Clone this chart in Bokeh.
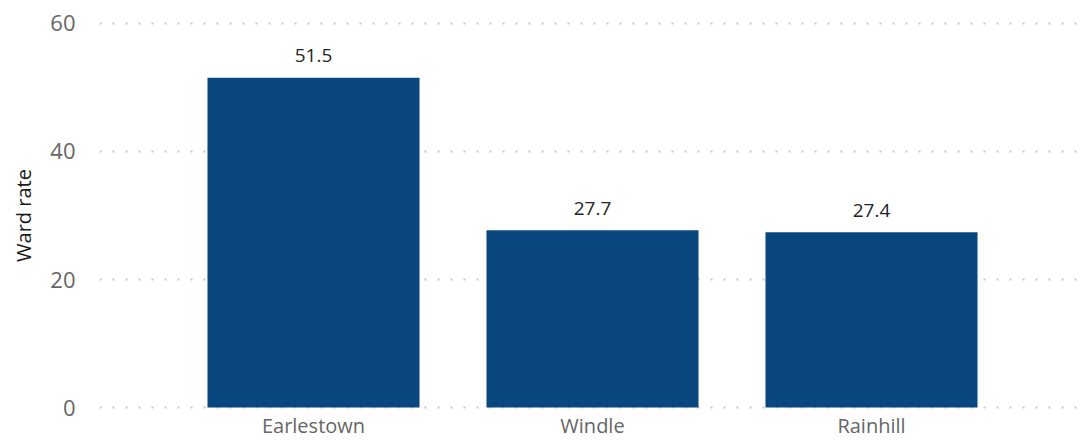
from bokeh.plotting import figure
from bokeh.models import ColumnDataSource, FactorRange, Range1d, FixedTicker, BoxAnnotation
from bokeh.core.properties import value
from bokeh.embed import file_html
from bokeh.resources import INLINE

wards = ["Earlestown", "Windle", "Rainhill"]
rates = [51.5, 27.7, 27.4]
rate_labels = [f"{v:.1f}" for v in rates]
y_ticks = [0, 20, 40, 60]

FONT = "Open Sans"
BAR = "#0B477F"

src = ColumnDataSource(dict(ward=wards, rate=rates, lab=rate_labels))

p = figure(
    x_range=FactorRange(*wards, range_padding=0.267, range_padding_units="absolute"),
    y_range=Range1d(-0.3, 60.3),
    width=1085, height=441,
    output_backend="svg", toolbar_location=None,
    min_border_left=99, min_border_right=0, min_border_top=21, min_border_bottom=0,
)
p.outline_line_color = None
p.background_fill_color = "white"
p.border_fill_color = "white"

p.vbar(x="ward", top="rate", bottom=0, width=0.76, source=src, fill_color=BAR, line_color=None)
p.text(x="ward", y="rate", text="lab", source=src, text_align="center",
       text_baseline="alphabetic", y_offset=-22,
       text_font=value(FONT), text_font_size="19px", text_color="#252423")

p.xgrid.grid_line_color = None
p.ygrid.grid_line_color = "#C8C8C8"
p.ygrid.grid_line_width = 2
p.ygrid.grid_line_dash = "2 11"
p.yaxis.ticker = FixedTicker(ticks=y_ticks)

for ax in (p.xaxis[0], p.yaxis[0]):
    ax.axis_line_color = None
    ax.major_tick_line_color = None
    ax.minor_tick_line_color = None
    ax.major_tick_out = 0
    ax.major_tick_in = 0
    ax.minor_tick_out = 0
    ax.major_label_text_font = FONT
    ax.major_label_text_color = "#666666"

p.xaxis.major_label_text_font_size = "20px"
p.xaxis.major_label_text_baseline = "hanging"
p.xaxis.major_label_standoff = 2
p.yaxis.major_label_text_font_size = "22px"
p.yaxis.major_label_standoff = 24
p.yaxis.axis_label = "Ward rate"
p.yaxis.axis_label_text_font = FONT
p.yaxis.axis_label_text_font_size = "20px"
p.yaxis.axis_label_text_font_style = "normal"
p.yaxis.axis_label_text_color = "#1A1A1A"
p.yaxis.axis_label_standoff = 10

edge = BoxAnnotation(left=0, right=2, top=0, bottom=441,
                     left_units="canvas", right_units="canvas",
                     top_units="canvas", bottom_units="canvas",
                     fill_color="#3C3C3C", fill_alpha=1.0, line_color=None, level="overlay")
p.add_layout(edge)

open("out.html", "w").write(file_html(p, INLINE))
